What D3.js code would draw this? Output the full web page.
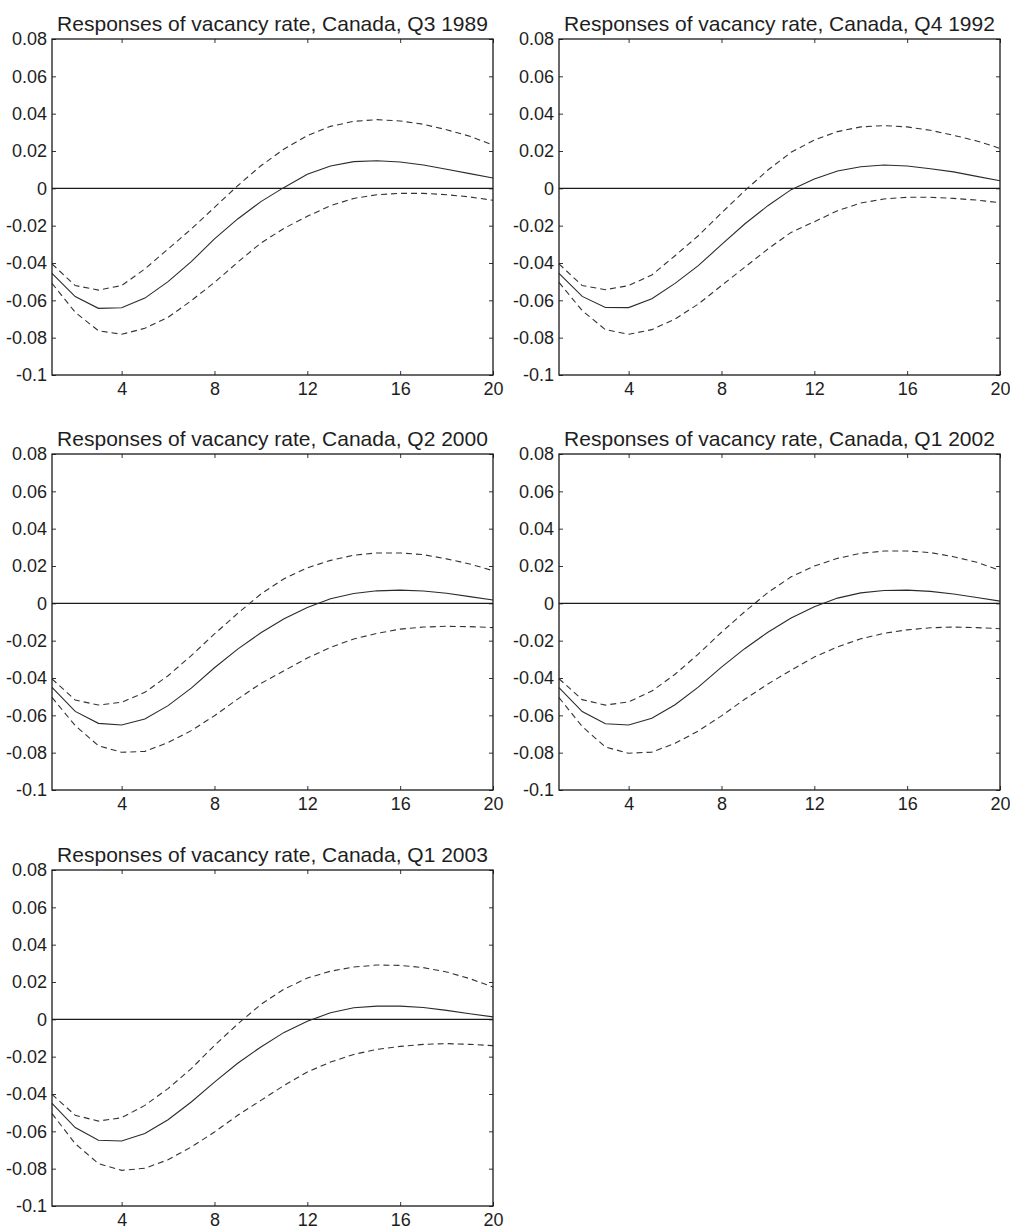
<!DOCTYPE html>
<meta charset="utf-8">
<style type="text/css">
body { margin: 0; background: #fff; }
/* curves */
.line { fill: none; stroke: #2b2b2b; stroke-width: 1.1px; }
.band { fill: none; stroke: #333; stroke-width: 1.1px; stroke-dasharray: 6,4; }
.zero { stroke: #1a1a1a; stroke-width: 1.2px; }
.frame { fill: none; stroke: #1a1a1a; stroke-width: 1.3px; }
.axis text { font-family: "Liberation Sans", Arial, Helvetica, sans-serif; font-size: 18px; fill: #1e1e1e; }
.axis line { stroke: #333; }
.title { font-family: "Liberation Sans", Arial, Helvetica, sans-serif; font-size: 21px; fill: #1e1e1e; }
</style>
<body>
</body>
<title>Responses of vacancy rate, Canada</title>
<script src="https://cdn.jsdelivr.net/npm/d3@7"></script>
<script>

// horizons (quarters)
var horizons = [1,2,3,4,5,6,7,8,9,10,11,12,13,14,15,16,17,18,19,20];
var xTicks = [4, 8, 12, 16, 20];
var yTicks = [-0.1, -0.08, -0.06, -0.04, -0.02, 0, 0.02, 0.04, 0.06, 0.08];
var yTickLabels = ["-0.1", "-0.08", "-0.06", "-0.04", "-0.02", "0", "0.02", "0.04", "0.06", "0.08"];

var titles = [
    "Responses of vacancy rate, Canada, Q3 1989",
    "Responses of vacancy rate, Canada, Q4 1992",
    "Responses of vacancy rate, Canada, Q2 2000",
    "Responses of vacancy rate, Canada, Q1 2002",
    "Responses of vacancy rate, Canada, Q1 2003"
];

// Q3 1989
var resp1989 = [-0.0455,-0.0580,-0.0643,-0.0640,-0.0588,-0.0500,-0.0393,-0.0271,-0.0164,-0.0071,0.0005,0.0075,0.0120,0.0143,0.0148,0.0141,0.0125,0.0102,0.0079,0.0055];
var upper1989 = [-0.0405,-0.0521,-0.0545,-0.0521,-0.0432,-0.0325,-0.0218,-0.0102,0.0014,0.0121,0.0211,0.0282,0.0332,0.0359,0.0368,0.0361,0.0343,0.0314,0.0279,0.0232];
var lower1989 = [-0.0509,-0.0664,-0.0763,-0.0782,-0.0750,-0.0691,-0.0602,-0.0504,-0.0396,-0.0293,-0.0214,-0.0150,-0.0093,-0.0054,-0.0034,-0.0027,-0.0027,-0.0034,-0.0046,-0.0064];

// Q4 1992
var resp1992 = [-0.0455,-0.0579,-0.0638,-0.0639,-0.0591,-0.0509,-0.0414,-0.0302,-0.0191,-0.0093,-0.0007,0.0050,0.0093,0.0116,0.0125,0.0120,0.0105,0.0088,0.0064,0.0041];
var upper1992 = [-0.0405,-0.0521,-0.0543,-0.0521,-0.0464,-0.0361,-0.0254,-0.0132,-0.0013,0.0098,0.0193,0.0259,0.0304,0.0329,0.0336,0.0329,0.0311,0.0284,0.0254,0.0214];
var lower1992 = [-0.0504,-0.0655,-0.0757,-0.0782,-0.0757,-0.0700,-0.0620,-0.0521,-0.0423,-0.0325,-0.0236,-0.0179,-0.0120,-0.0079,-0.0057,-0.0048,-0.0048,-0.0054,-0.0063,-0.0077];

// Q2 2000
var resp2000 = [-0.0450,-0.0579,-0.0643,-0.0652,-0.0620,-0.0548,-0.0454,-0.0345,-0.0245,-0.0158,-0.0083,-0.0022,0.0025,0.0053,0.0067,0.0071,0.0066,0.0054,0.0036,0.0018];
var upper2000 = [-0.0405,-0.0518,-0.0545,-0.0530,-0.0477,-0.0388,-0.0280,-0.0164,-0.0054,0.0050,0.0132,0.0190,0.0230,0.0258,0.0270,0.0270,0.0261,0.0238,0.0211,0.0175];
var lower2000 = [-0.0504,-0.0655,-0.0763,-0.0798,-0.0793,-0.0746,-0.0682,-0.0602,-0.0513,-0.0429,-0.0361,-0.0293,-0.0236,-0.0191,-0.0161,-0.0138,-0.0127,-0.0123,-0.0125,-0.0130];

// Q1 2002
var resp2002 = [-0.0452,-0.0580,-0.0645,-0.0652,-0.0616,-0.0543,-0.0449,-0.0342,-0.0243,-0.0155,-0.0079,-0.0018,0.0028,0.0056,0.0069,0.0071,0.0064,0.0050,0.0031,0.0012];
var upper2002 = [-0.0404,-0.0516,-0.0545,-0.0528,-0.0470,-0.0380,-0.0272,-0.0155,-0.0045,0.0058,0.0142,0.0200,0.0241,0.0268,0.0280,0.0280,0.0272,0.0250,0.0220,0.0176];
var lower2002 = [-0.0505,-0.0660,-0.0770,-0.0803,-0.0797,-0.0750,-0.0684,-0.0603,-0.0514,-0.0432,-0.0358,-0.0288,-0.0233,-0.0190,-0.0161,-0.0142,-0.0131,-0.0127,-0.0130,-0.0136];

// Q1 2003
var resp2003 = [-0.0450,-0.0580,-0.0648,-0.0652,-0.0612,-0.0538,-0.0443,-0.0336,-0.0235,-0.0148,-0.0070,-0.0010,0.0035,0.0062,0.0071,0.0071,0.0063,0.0048,0.0030,0.0013];
var upper2003 = [-0.0402,-0.0514,-0.0545,-0.0527,-0.0461,-0.0371,-0.0264,-0.0140,-0.0025,0.0080,0.0162,0.0221,0.0258,0.0280,0.0291,0.0289,0.0277,0.0254,0.0218,0.0173];
var lower2003 = [-0.0505,-0.0666,-0.0773,-0.0809,-0.0798,-0.0752,-0.0684,-0.0604,-0.0514,-0.0434,-0.0354,-0.0282,-0.0229,-0.0188,-0.0161,-0.0145,-0.0134,-0.0130,-0.0134,-0.0141];

var panels = [
    {title: titles[0], resp: resp1989, upper: upper1989, lower: lower1989, col: 0, row: 0},
    {title: titles[1], resp: resp1992, upper: upper1992, lower: lower1992, col: 1, row: 0},
    {title: titles[2], resp: resp2000, upper: upper2000, lower: lower2000, col: 0, row: 1},
    {title: titles[3], resp: resp2002, upper: upper2002, lower: lower2002, col: 1, row: 1},
    {title: titles[4], resp: resp2003, upper: upper2003, lower: lower2003, col: 0, row: 2}
];

var W = 1010, H = 1226;
var colLeft = [52, 559], rowTop = [39, 454, 870];
var width = 441, height = 336;

var svg = d3.select("body").append("svg")
    .attr("width", W)
    .attr("height", H);

var x = d3.scaleLinear().domain([1, 20]).range([0, width]);
var y = d3.scaleLinear().domain([-0.1, 0.08]).range([height, 0]);

var line = d3.line()
    .x(function(d) { return x(d.h); })
    .y(function(d) { return y(d.v); });

panels.forEach(function(p) {
    var g = svg.append("g")
        .attr("transform", "translate(" + colLeft[p.col] + "," + rowTop[p.row] + ")");

    // inside ticks on all four sides
    g.append("g").attr("class", "axis")
        .call(d3.axisLeft(y).tickValues(yTicks).tickSize(-4).tickSizeOuter(0).tickPadding(5)
            .tickFormat(function(d, i) { return yTickLabels[i]; }))
        .call(function(a) { a.select(".domain").remove(); });

    g.append("g").attr("class", "axis")
        .attr("transform", "translate(" + width + ",0)")
        .call(d3.axisRight(y).tickValues(yTicks).tickSize(-4).tickSizeOuter(0).tickFormat(""))
        .call(function(a) { a.select(".domain").remove(); });

    g.append("g").attr("class", "axis")
        .attr("transform", "translate(0," + height + ")")
        .call(d3.axisBottom(x).tickValues(xTicks).tickSize(-4).tickSizeOuter(0).tickPadding(7)
            .tickFormat(d3.format("d")))
        .call(function(a) { a.select(".domain").remove(); });

    g.append("g").attr("class", "axis")
        .call(d3.axisTop(x).tickValues(xTicks).tickSize(-4).tickSizeOuter(0).tickFormat(""))
        .call(function(a) { a.select(".domain").remove(); });

    // zero line
    g.append("line").attr("class", "zero")
        .attr("x1", x(1)).attr("x2", x(20))
        .attr("y1", y(0)).attr("y2", y(0));

    var toPts = function(arr) { return horizons.map(function(h, i) { return {h: h, v: arr[i]}; }); };

    g.append("path").datum(toPts(p.upper)).attr("class", "band").attr("d", line);
    g.append("path").datum(toPts(p.lower)).attr("class", "band").attr("d", line);
    g.append("path").datum(toPts(p.resp)).attr("class", "line").attr("d", line);

    // box
    g.append("rect").attr("class", "frame")
        .attr("x", 0).attr("y", 0)
        .attr("width", width).attr("height", height);

    g.append("text").attr("class", "title")
        .attr("x", width / 2)
        .attr("y", -8)
        .attr("text-anchor", "middle")
        .text(p.title);
});

</script>
